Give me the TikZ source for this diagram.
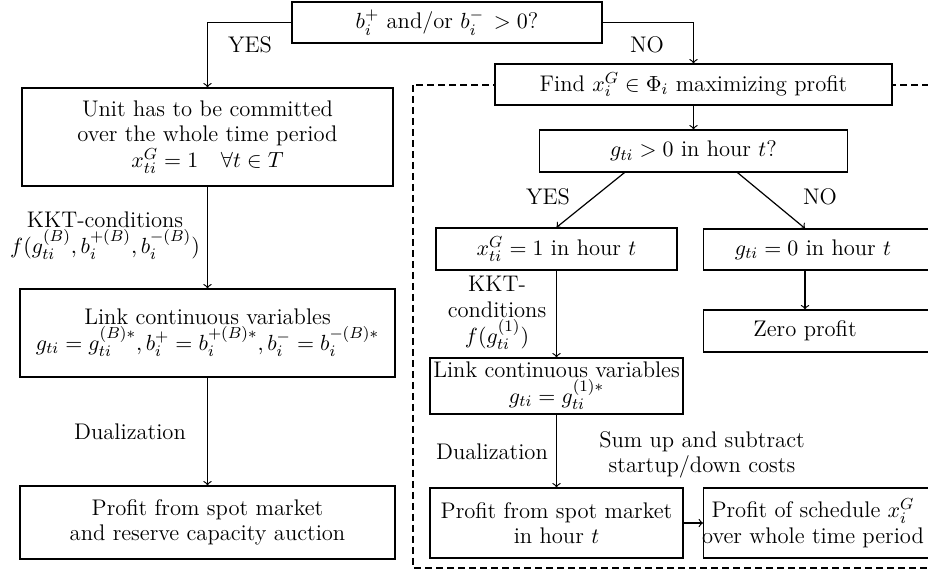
\documentclass[tikz,border=0pt]{standalone}
\usetikzlibrary{arrows}
\begin{document}
\begin{tikzpicture}[x=0.5pt,y=-0.5pt,
  every node/.style={font=\fontsize{11.3}{12.8}\selectfont},
  box/.style={draw, fill=white, inner sep=0pt, align=center, line width=0.6pt},
  lbl/.style={inner sep=0pt, align=center},
  conn/.style={->, line width=0.6pt},
  dashbox/.style={line width=0.6pt, dash pattern=on 3.5pt off 2pt}]
\useasboundingbox (0,0) rectangle (928,571);
\clip (0,0) rectangle (928,571);
% dashed frame
\draw[dashbox] (413,85) rectangle (980,568);
% nodes
\node[box, minimum width=155pt, minimum height=20.5pt] (top) at (447,22.5) {$b_i^+$ and/or $b_i^-\,>0$?};
\node[box, minimum width=185.5pt, minimum height=49pt] (box1) at (207.5,137) {Unit has to be committed\\over the whole time period\\$x_{ti}^G = 1 \quad \forall t \in T$};
\node[box, minimum width=187.5pt, minimum height=44pt] (box2) at (207.5,333) {Link continuous variables\\$g_{ti} = g_{ti}^{(B)*}, b_i^+ = b_i^{+(B)*}, b_i^- = b_i^{-(B)*}$};
\node[box, minimum width=187.5pt, minimum height=36.5pt] (box3) at (207.5,522.5) {Profit from spot market\\and reserve capacity auction};
\node[box, minimum width=198.5pt, minimum height=20.5pt] (find) at (693.5,84.5) {Find $x_i^G \in \Phi_i$ maximizing profit};
\node[box, minimum width=154pt, minimum height=21pt] (gq) at (693.5,151) {$g_{ti} > 0$ in hour $t$?};
\node[box, minimum width=120.5pt, minimum height=21pt] (x1) at (556.5,249) {$x_{ti}^G = 1$ in hour $t$};
\node[box, anchor=west, minimum width=140pt, minimum height=20.5pt] (g0) at (703,249.5) {};
\node[lbl] (g0t) at (813,249.5) {$g_{ti} = 0$ in hour $t$};
\node[box, anchor=west, minimum width=140pt, minimum height=21pt] (zp) at (703,331) {};
\node[lbl] (zpt) at (805,331) {Zero profit};
\node[box, minimum width=126.5pt, minimum height=28pt] (link2) at (556.5,386) {Link continuous variables\\$g_{ti} = g_{ti}^{(1)*}$};
\node[box, minimum width=126.5pt, minimum height=35pt] (ph) at (556.5,523) {Profit from spot market\\in hour $t$};
\node[box, anchor=west, minimum width=140pt, minimum height=35pt] (ps) at (703,523) {};
\node[lbl] (pst) at (813,523) {Profit of schedule $x_i^G$\\over whole time period};
% labels
\node[lbl] (yes1) at (250,45) {YES};
\node[lbl] (no1) at (647,45) {NO};
\node[lbl] (yes2) at (548,197) {YES};
\node[lbl] (no2) at (820,197) {NO};
\node[lbl] (kkt1) at (105,236) {KKT-conditions\\$f(g_{ti}^{(B)}, b_i^{+(B)}, b_i^{-(B)})$};
\node[lbl] (dual1) at (130,432) {Dualization};
\node[lbl] (kkt2) at (497,313) {KKT-\\conditions\\$f(g_{ti}^{(1)})$};
\node[lbl] (dual2) at (492,452) {Dualization};
\node[lbl] (sum) at (702,455) {Sum up and subtract\\startup/down costs};
% connectors
\draw[conn] (top.west) -| (box1.north);
\draw[conn] (top.east) -| (find.north);
\draw[conn] (box1.south) -- (box2.north);
\draw[conn] (box2.south) -- (box3.north);
\draw[conn] (find.south) -- (gq.north);
\draw[conn] ([xshift=-34.5pt]gq.south) -- (x1.north);
\draw[conn] ([xshift=22pt]gq.south) -- ([xshift=51pt]g0.north west);
\draw[conn] ([xshift=51pt]g0.south west) -- ([xshift=51pt]zp.north west);
\draw[conn] (x1.south) -- (link2.north);
\draw[conn] (link2.south) -- (ph.north);
\draw[conn] (ph.east) -- (ps.west);
\end{tikzpicture}
\end{document}
